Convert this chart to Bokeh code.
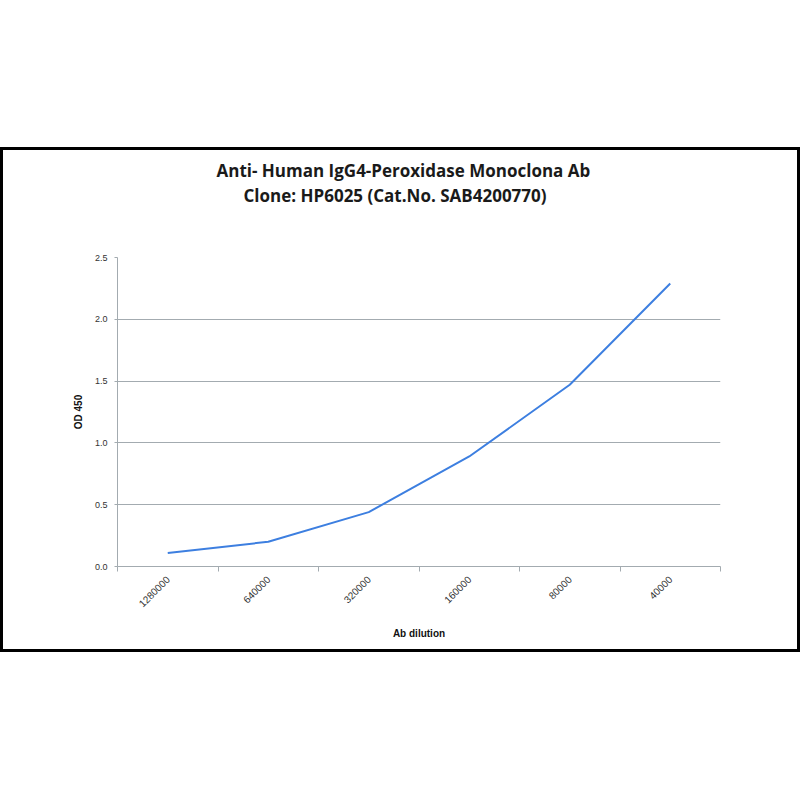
from math import pi
from bokeh.plotting import figure
from bokeh.layouts import column, row
from bokeh.models import Range1d, FixedTicker, Title, NumeralTickFormatter, Spacer
from bokeh.embed import file_html
from bokeh.resources import INLINE

# data
dilutions = ["1280000", "640000", "320000", "160000", "80000", "40000"]
od450 = [0.11, 0.20, 0.44, 0.89, 1.47, 2.29]
y_ticks = [0.0, 0.5, 1.0, 1.5, 2.0, 2.5]
title_lines = ["Anti- Human IgG4-Peroxidase Monoclona Ab",
               "Clone: HP6025 (Cat.No. SAB4200770)"]
x_title = "Ab dilution"
y_title = "OD 450"

W, H = 794, 499
GRID = "#a3abb0"
LINE = "#3d7fe0"

xs = [i + 0.5 for i in range(len(dilutions))]

p = figure(width=W, height=H, output_backend="svg", toolbar_location=None,
           x_range=Range1d(0, len(dilutions)), y_range=Range1d(0, 2.5),
           min_border_left=114, min_border_right=77,
           min_border_top=107, min_border_bottom=83)
p.outline_line_color = None
p.background_fill_color = "white"
p.border_fill_color = "white"
# black frame drawn just outside the figure box
p.styles = {"outline": "3px solid black"}

# title panels stack outward from the plot: gap first, then line 2, then line 1
p.add_layout(Title(text="\u00a0", text_font_size="10px", standoff=38), "above")
p.add_layout(Title(text=title_lines[1], align="left", offset=126, standoff=0,
                   text_font="Open Sans", text_font_style="bold", text_font_size="17px",
                   text_color="#1a1a1a"), "above")
p.add_layout(Title(text=title_lines[0], align="left", offset=99, standoff=0,
                   text_font="Open Sans", text_font_style="bold", text_font_size="17px",
                   text_color="#1a1a1a"), "above")

# grid
p.xgrid.grid_line_color = None
p.ygrid.grid_line_color = GRID
p.ygrid.ticker = FixedTicker(ticks=y_ticks)

# y axis
p.yaxis.ticker = FixedTicker(ticks=y_ticks)
p.yaxis.formatter = NumeralTickFormatter(format="0.0")
p.yaxis.axis_line_color = GRID
p.yaxis.major_tick_line_color = GRID
p.yaxis.major_tick_out = 3
p.yaxis.major_tick_in = 0
p.yaxis.minor_tick_line_color = None
p.yaxis.major_label_text_font = "Liberation Sans"
p.yaxis.major_label_text_font_size = "9px"
p.yaxis.major_label_text_color = "#333333"
p.yaxis.major_label_standoff = 7
p.yaxis.axis_label = y_title
p.yaxis.axis_label_text_font = "Liberation Sans"
p.yaxis.axis_label_text_font_size = "10px"
p.yaxis.axis_label_text_font_style = "bold"
p.yaxis.axis_label_text_color = "#111111"
p.yaxis.axis_label_standoff = 8

# x axis: labels at category centres, tick marks on category boundaries
p.xaxis.ticker = FixedTicker(ticks=xs, minor_ticks=list(range(len(dilutions) + 1)))
p.xaxis.major_label_overrides = {x: lab for x, lab in zip(xs, dilutions)}
p.xaxis.major_label_orientation = pi / 4
p.xaxis.major_tick_line_color = None
p.xaxis.minor_tick_line_color = GRID
p.xaxis.minor_tick_out = 5
p.xaxis.minor_tick_in = 0
p.xaxis.axis_line_color = GRID
p.xaxis.major_label_text_font = "Liberation Sans"
p.xaxis.major_label_text_font_size = "10px"
p.xaxis.major_label_text_color = "#333333"
p.xaxis.major_label_standoff = 5
p.xaxis.axis_label = x_title
p.xaxis.axis_label_text_font = "Liberation Sans"
p.xaxis.axis_label_text_font_size = "10px"
p.xaxis.axis_label_text_font_style = "bold"
p.xaxis.axis_label_text_color = "#111111"
p.xaxis.axis_label_standoff = 14

p.line(xs, od450, line_color=LINE, line_width=2)

page = column(Spacer(width=800, height=150),
              row(Spacer(width=3, height=H), p))

open("out.html", "w").write(file_html(page, INLINE))
